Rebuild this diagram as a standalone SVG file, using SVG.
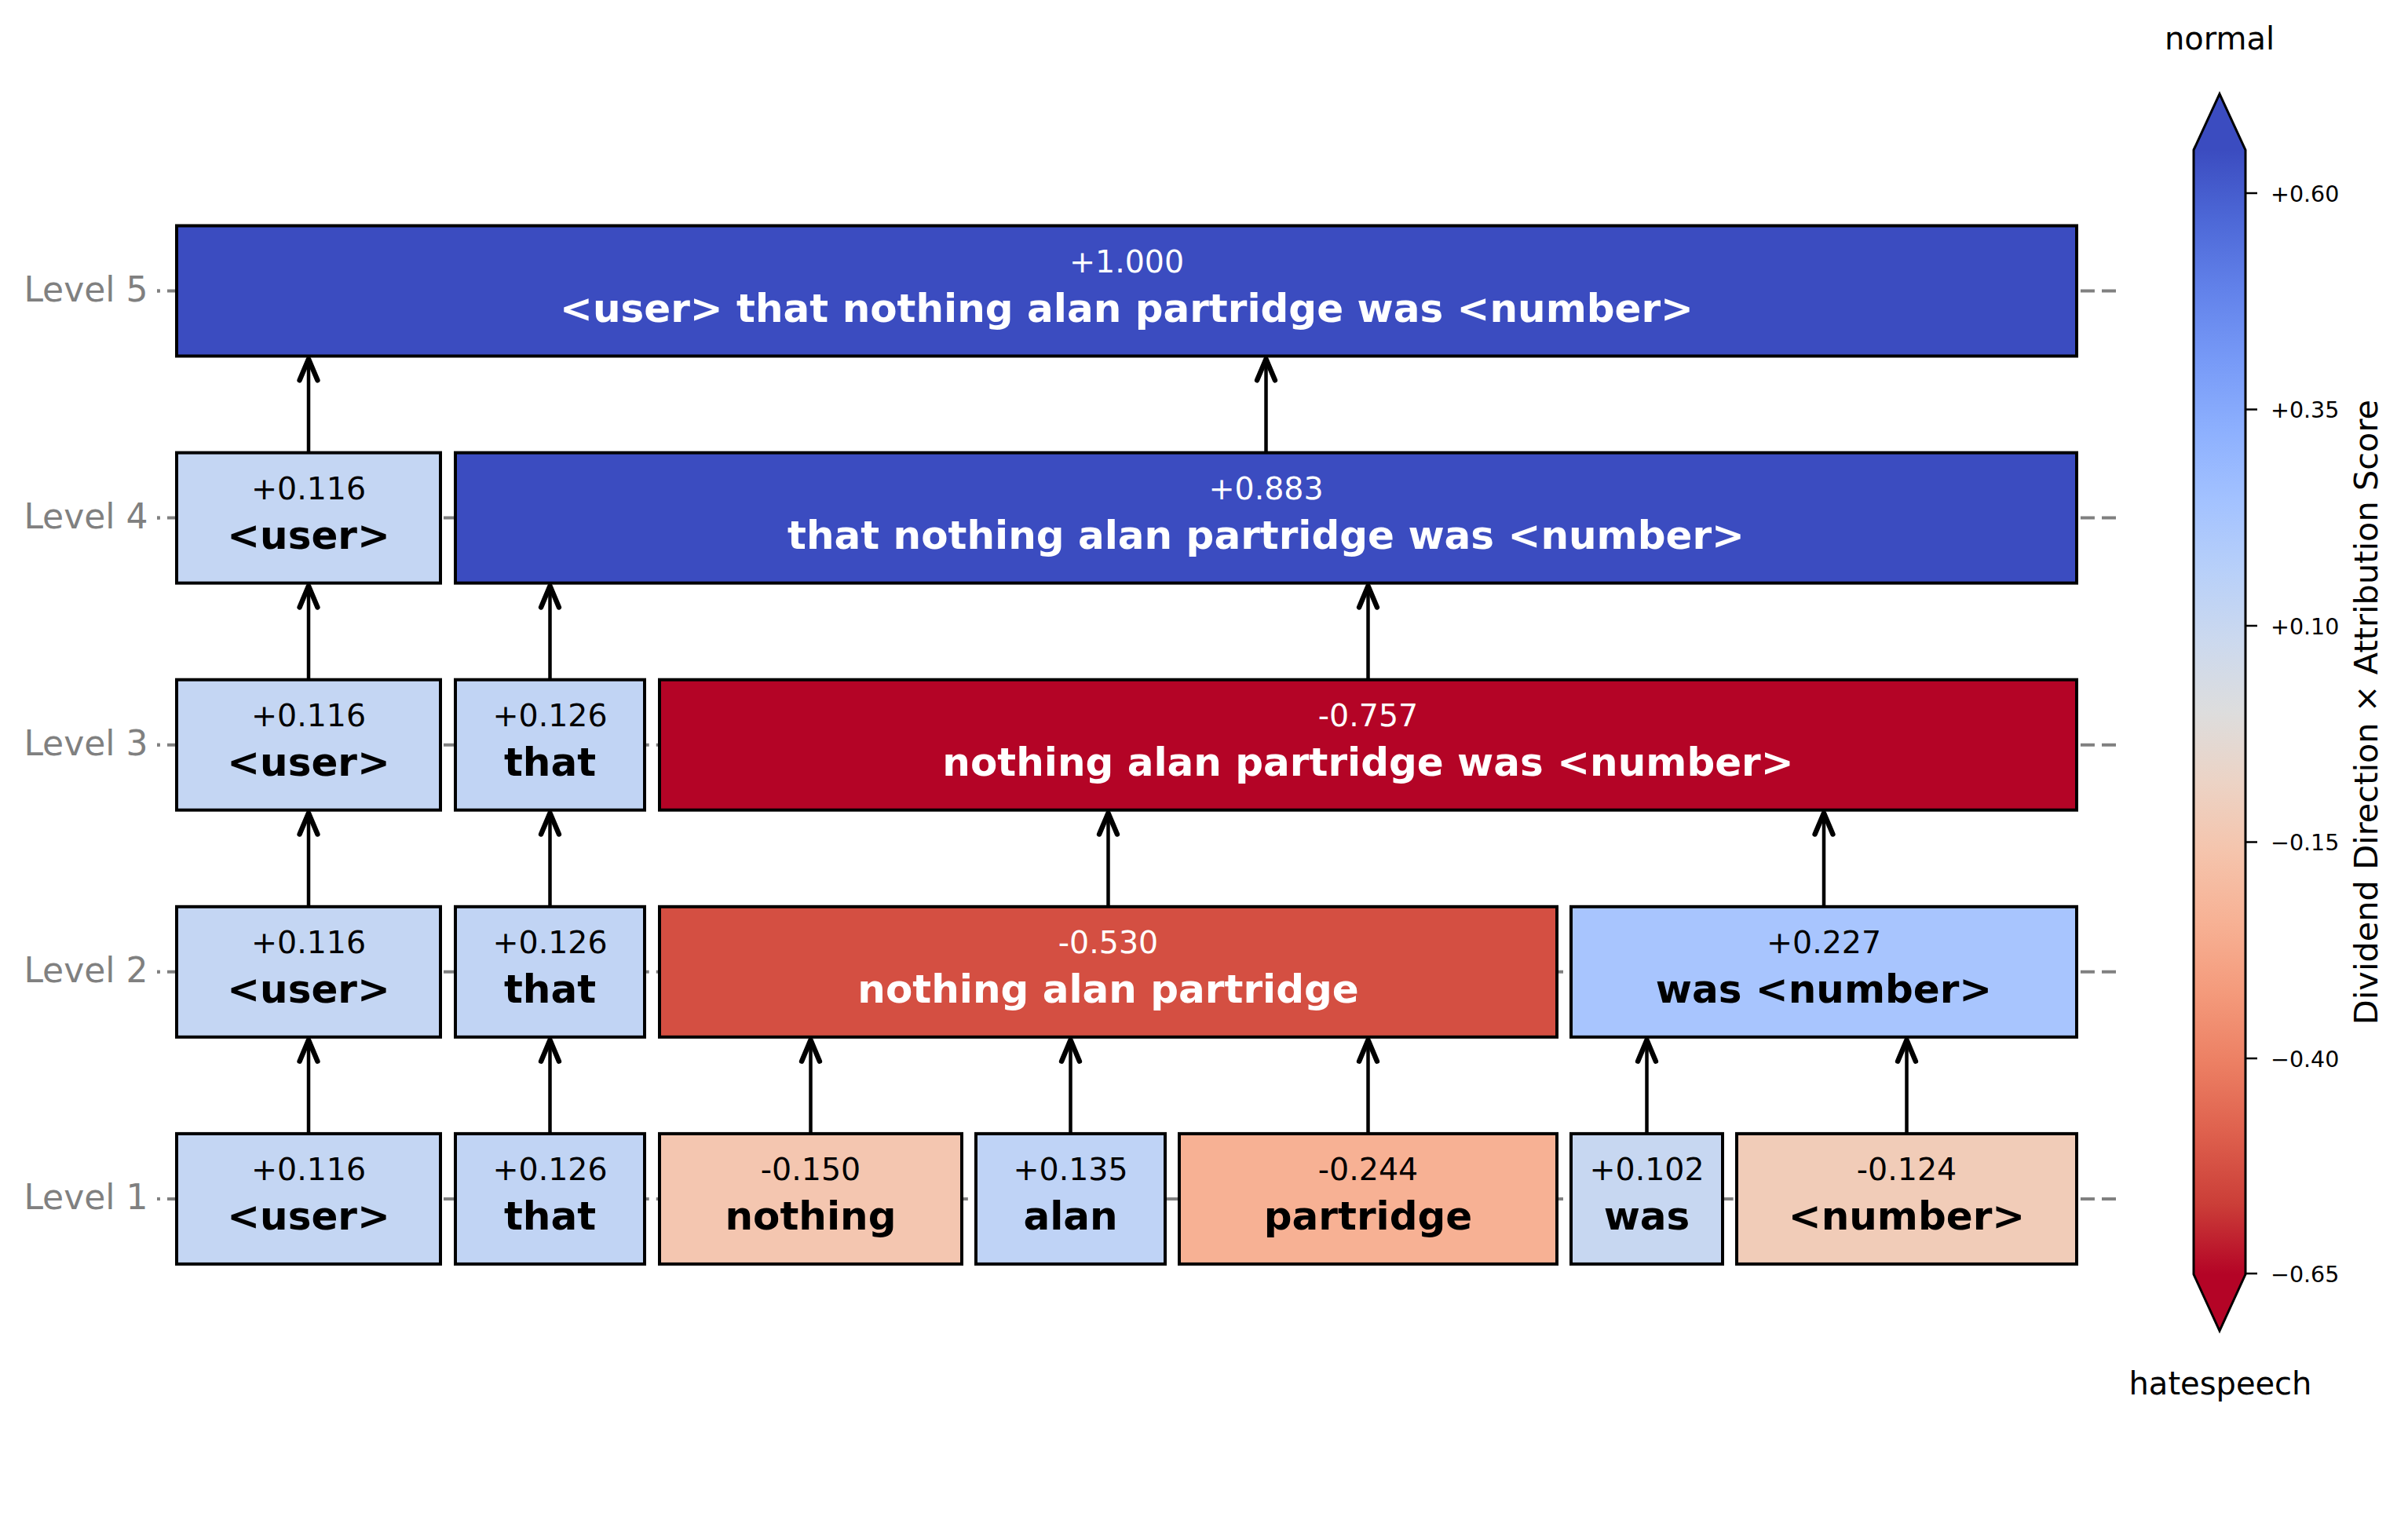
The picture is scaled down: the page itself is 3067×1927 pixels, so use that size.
<svg xmlns="http://www.w3.org/2000/svg" width="3067" height="1927" viewBox="0 0 3067 1927">
<style>
text{font-family:"DejaVu Sans","Liberation Sans",sans-serif}
.box{stroke:#000;stroke-width:4}
.val{font-size:39.5px;text-anchor:middle}
.lab{font-size:50px;font-weight:bold;text-anchor:middle}
.w{fill:#fff}
.k{fill:#000}
.lvl{font-size:44px;fill:#808080;text-anchor:end}
.grid{stroke:#808080;stroke-width:4;stroke-dasharray:18 9.077;stroke-dashoffset:14.077;fill:none}
.tk{stroke:#808080;stroke-width:4}
.arr{stroke:#000;stroke-width:4.5;fill:none;marker-end:url(#ah)}
.ctl{font-size:28.5px;fill:#000}
.cbt{stroke:#000;stroke-width:2.5}
</style>
<defs>
<marker id="ah" markerUnits="userSpaceOnUse" markerWidth="40" markerHeight="40" viewBox="-24 -14 28 28" refX="0" refY="0" orient="auto" overflow="visible">
<path d="M-19,-8 L0,0 L-19,8" fill="none" stroke="#000" stroke-width="4.5" stroke-linecap="round" stroke-linejoin="round"/>
</marker>
<linearGradient id="cw" gradientUnits="userSpaceOnUse" x1="0" y1="191" x2="0" y2="1623">
<stop offset="0" stop-color="#3b4cc0"/>
<stop offset="0.0625" stop-color="#4d68d7"/>
<stop offset="0.125" stop-color="#6282ea"/>
<stop offset="0.1875" stop-color="#779af7"/>
<stop offset="0.25" stop-color="#8db0fe"/>
<stop offset="0.3125" stop-color="#a3c2ff"/>
<stop offset="0.375" stop-color="#b8d0f9"/>
<stop offset="0.4375" stop-color="#ccd9ee"/>
<stop offset="0.5" stop-color="#dddddd"/>
<stop offset="0.5625" stop-color="#ecd3c5"/>
<stop offset="0.625" stop-color="#f5c4ac"/>
<stop offset="0.6875" stop-color="#f7b194"/>
<stop offset="0.75" stop-color="#f49a7b"/>
<stop offset="0.8125" stop-color="#ec7f63"/>
<stop offset="0.875" stop-color="#de604d"/>
<stop offset="0.9375" stop-color="#cb3e38"/>
<stop offset="1" stop-color="#b40426"/>
</linearGradient>
</defs>

<g id="level-axis">
<line class="tk" x1="200" y1="370.5" x2="203.5" y2="370.5"/>
<line class="tk" x1="200" y1="659.6" x2="203.5" y2="659.6"/>
<line class="tk" x1="200" y1="948.7" x2="203.5" y2="948.7"/>
<line class="tk" x1="200" y1="1237.8" x2="203.5" y2="1237.8"/>
<line class="tk" x1="200" y1="1526.9" x2="203.5" y2="1526.9"/>
<line class="grid" x1="200" y1="370.5" x2="2696" y2="370.5"/>
<line class="grid" x1="200" y1="659.6" x2="2696" y2="659.6"/>
<line class="grid" x1="200" y1="948.7" x2="2696" y2="948.7"/>
<line class="grid" x1="200" y1="1237.8" x2="2696" y2="1237.8"/>
<line class="grid" x1="200" y1="1526.9" x2="2696" y2="1526.9"/>
<text class="lvl" x="188.5" y="383.5">Level 5</text>
<text class="lvl" x="188.5" y="672.6">Level 4</text>
<text class="lvl" x="188.5" y="961.7">Level 3</text>
<text class="lvl" x="188.5" y="1250.8">Level 2</text>
<text class="lvl" x="188.5" y="1539.9">Level 1</text>
</g>

<g id="connectors">
<line class="arr" x1="393" y1="1443.9" x2="393" y2="1324.5"/>
<line class="arr" x1="700.5" y1="1443.9" x2="700.5" y2="1324.5"/>
<line class="arr" x1="1032.5" y1="1443.9" x2="1032.5" y2="1324.5"/>
<line class="arr" x1="1363.5" y1="1443.9" x2="1363.5" y2="1324.5"/>
<line class="arr" x1="1742.5" y1="1443.9" x2="1742.5" y2="1324.5"/>
<line class="arr" x1="2097.5" y1="1443.9" x2="2097.5" y2="1324.5"/>
<line class="arr" x1="2428.5" y1="1443.9" x2="2428.5" y2="1324.5"/>
<line class="arr" x1="393" y1="1154.8" x2="393" y2="1035.4"/>
<line class="arr" x1="700.5" y1="1154.8" x2="700.5" y2="1035.4"/>
<line class="arr" x1="1411.5" y1="1154.8" x2="1411.5" y2="1035.4"/>
<line class="arr" x1="2323" y1="1154.8" x2="2323" y2="1035.4"/>
<line class="arr" x1="393" y1="865.7" x2="393" y2="746.3"/>
<line class="arr" x1="700.5" y1="865.7" x2="700.5" y2="746.3"/>
<line class="arr" x1="1742.5" y1="865.7" x2="1742.5" y2="746.3"/>
<line class="arr" x1="393" y1="576.6" x2="393" y2="457.2"/>
<line class="arr" x1="1612.5" y1="576.6" x2="1612.5" y2="457.2"/>
</g>

<g id="L5-all">
<rect class="box" x="225" y="287.5" width="2420" height="166" fill="#3b4cc0"/>
<text class="val w" x="1435" y="346.5">+1.000</text>
<text class="lab w" x="1435" y="409.5">&lt;user&gt; that nothing alan partridge was &lt;number&gt;</text>
</g>

<g id="L4-user">
<rect class="box" x="225" y="576.6" width="336" height="166" fill="#c4d6f3"/>
<text class="val k" x="393" y="635.6">+0.116</text>
<text class="lab k" x="393" y="698.6">&lt;user&gt;</text>
</g>
<g id="L4-rest">
<rect class="box" x="580" y="576.6" width="2065" height="166" fill="#3b4cc0"/>
<text class="val w" x="1612.5" y="635.6">+0.883</text>
<text class="lab w" x="1612.5" y="698.6">that nothing alan partridge was &lt;number&gt;</text>
</g>

<g id="L3-user">
<rect class="box" x="225" y="865.7" width="336" height="166" fill="#c4d6f3"/>
<text class="val k" x="393" y="924.7">+0.116</text>
<text class="lab k" x="393" y="987.7">&lt;user&gt;</text>
</g>
<g id="L3-that">
<rect class="box" x="580" y="865.7" width="241" height="166" fill="#c1d4f4"/>
<text class="val k" x="700.5" y="924.7">+0.126</text>
<text class="lab k" x="700.5" y="987.7">that</text>
</g>
<g id="L3-rest">
<rect class="box" x="840" y="865.7" width="1805" height="166" fill="#b40426"/>
<text class="val w" x="1742.5" y="924.7">-0.757</text>
<text class="lab w" x="1742.5" y="987.7">nothing alan partridge was &lt;number&gt;</text>
</g>

<g id="L2-user">
<rect class="box" x="225" y="1154.8" width="336" height="166" fill="#c4d6f3"/>
<text class="val k" x="393" y="1213.8">+0.116</text>
<text class="lab k" x="393" y="1276.8">&lt;user&gt;</text>
</g>
<g id="L2-that">
<rect class="box" x="580" y="1154.8" width="241" height="166" fill="#c1d4f4"/>
<text class="val k" x="700.5" y="1213.8">+0.126</text>
<text class="lab k" x="700.5" y="1276.8">that</text>
</g>
<g id="L2-nap">
<rect class="box" x="840" y="1154.8" width="1143" height="166" fill="#d44f42"/>
<text class="val w" x="1411.5" y="1213.8">-0.530</text>
<text class="lab w" x="1411.5" y="1276.8">nothing alan partridge</text>
</g>
<g id="L2-wn">
<rect class="box" x="2001" y="1154.8" width="644" height="166" fill="#a8c5fe"/>
<text class="val k" x="2323" y="1213.8">+0.227</text>
<text class="lab k" x="2323" y="1276.8">was &lt;number&gt;</text>
</g>

<g id="L1-user">
<rect class="box" x="225" y="1443.9" width="336" height="166" fill="#c4d6f3"/>
<text class="val k" x="393" y="1502.9">+0.116</text>
<text class="lab k" x="393" y="1565.9">&lt;user&gt;</text>
</g>
<g id="L1-that">
<rect class="box" x="580" y="1443.9" width="241" height="166" fill="#c1d4f4"/>
<text class="val k" x="700.5" y="1502.9">+0.126</text>
<text class="lab k" x="700.5" y="1565.9">that</text>
</g>
<g id="L1-nothing">
<rect class="box" x="840" y="1443.9" width="385" height="166" fill="#f4c6b0"/>
<text class="val k" x="1032.5" y="1502.9">-0.150</text>
<text class="lab k" x="1032.5" y="1565.9">nothing</text>
</g>
<g id="L1-alan">
<rect class="box" x="1243" y="1443.9" width="241" height="166" fill="#bfd3f6"/>
<text class="val k" x="1363.5" y="1502.9">+0.135</text>
<text class="lab k" x="1363.5" y="1565.9">alan</text>
</g>
<g id="L1-partridge">
<rect class="box" x="1502" y="1443.9" width="481" height="166" fill="#f7b194"/>
<text class="val k" x="1742.5" y="1502.9">-0.244</text>
<text class="lab k" x="1742.5" y="1565.9">partridge</text>
</g>
<g id="L1-was">
<rect class="box" x="2001" y="1443.9" width="193" height="166" fill="#c7d7f1"/>
<text class="val k" x="2097.5" y="1502.9">+0.102</text>
<text class="lab k" x="2097.5" y="1565.9">was</text>
</g>
<g id="L1-number">
<rect class="box" x="2212" y="1443.9" width="433" height="166" fill="#f1ccb8"/>
<text class="val k" x="2428.5" y="1502.9">-0.124</text>
<text class="lab k" x="2428.5" y="1565.9">&lt;number&gt;</text>
</g>

<g id="colorbar">
<rect x="2794" y="191" width="66" height="1432" fill="url(#cw)"/>
<polygon points="2794,191 2827,119.6 2860,191" fill="#3b4cc0"/>
<polygon points="2794,1623 2827,1695 2860,1623" fill="#b40426"/>
<polygon points="2794,191 2827,119.6 2860,191 2860,1623 2827,1695 2794,1623" fill="none" stroke="#000" stroke-width="3"/>
<line class="cbt" x1="2860" y1="246" x2="2875" y2="246"/>
<line class="cbt" x1="2860" y1="521.5" x2="2875" y2="521.5"/>
<line class="cbt" x1="2860" y1="797" x2="2875" y2="797"/>
<line class="cbt" x1="2860" y1="1072.5" x2="2875" y2="1072.5"/>
<line class="cbt" x1="2860" y1="1348" x2="2875" y2="1348"/>
<line class="cbt" x1="2860" y1="1622" x2="2875" y2="1622"/>
<text class="ctl" x="2892" y="256.5">+0.60</text>
<text class="ctl" x="2892" y="532">+0.35</text>
<text class="ctl" x="2892" y="807.5">+0.10</text>
<text class="ctl" x="2892" y="1083">−0.15</text>
<text class="ctl" x="2892" y="1358.5">−0.40</text>
<text class="ctl" x="2892" y="1632.5">−0.65</text>
<text x="2827" y="62.5" font-size="40" text-anchor="middle" fill="#000">normal</text>
<text x="2828" y="1775.5" font-size="40" text-anchor="middle" fill="#000">hatespeech</text>
<text transform="translate(3028,907) rotate(-90)" x="0" y="0" font-size="41.5" text-anchor="middle" fill="#000">Dividend Direction × Attribution Score</text>
</g>
</svg>
